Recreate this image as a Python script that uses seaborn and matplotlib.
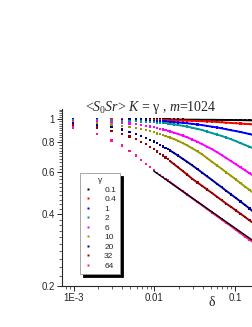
import numpy as np
import pandas as pd
import matplotlib
matplotlib.use("Agg")
import matplotlib.pyplot as plt
import seaborn as sns
from matplotlib.lines import Line2D
from matplotlib.ticker import FixedLocator, FixedFormatter, LogLocator, NullFormatter

# lattice size and sampled separations r (delta = r / m)
m = 1024
r_steps = [1, 2, 3, 4, 5, 6, 7, 8, 9, 10, 11, 12, 13, 14, 15, 16, 18, 20, 23, 26,
           30, 35, 40, 46, 53, 61, 70, 80, 92, 105, 120, 137, 155, 172]

gammas = ['0.1', '0.4', '1', '2', '6', '10', '20', '32', '64']
colors = ['#000000', '#ff0000', '#0000ff', '#009999', '#ff00ff',
          '#999900', '#000099', '#990000', '#ff1493']

corr_g01 = [1.000, 1.000, 1.000, 1.000, 0.999, 0.999, 0.999, 0.999, 0.999, 0.999, 0.999, 0.999,
            0.999, 0.998, 0.998, 0.998, 0.998, 0.998, 0.998, 0.997, 0.997, 0.997, 0.996, 0.996,
            0.996, 0.995, 0.995, 0.994, 0.994, 0.993, 0.993, 0.992, 0.991, 0.990]
corr_g04 = [0.999, 0.999, 0.998, 0.998, 0.997, 0.997, 0.996, 0.996, 0.995, 0.995, 0.994, 0.994,
            0.993, 0.993, 0.992, 0.992, 0.991, 0.990, 0.989, 0.988, 0.986, 0.984, 0.982, 0.980,
            0.978, 0.975, 0.972, 0.969, 0.966, 0.963, 0.960, 0.957, 0.955, 0.952]
corr_g1 = [0.999, 0.998, 0.996, 0.995, 0.993, 0.992, 0.990, 0.989, 0.987, 0.986, 0.984, 0.983,
           0.981, 0.980, 0.978, 0.977, 0.974, 0.971, 0.967, 0.963, 0.958, 0.952, 0.946, 0.939,
           0.932, 0.925, 0.917, 0.909, 0.900, 0.893, 0.885, 0.876, 0.868, 0.860]
corr_g2 = [0.997, 0.994, 0.991, 0.988, 0.985, 0.982, 0.979, 0.977, 0.974, 0.972, 0.969, 0.967,
           0.964, 0.962, 0.960, 0.957, 0.952, 0.947, 0.940, 0.933, 0.923, 0.912, 0.902, 0.889,
           0.876, 0.864, 0.852, 0.839, 0.825, 0.810, 0.795, 0.780, 0.768, 0.756]
corr_g6 = [0.988, 0.982, 0.975, 0.968, 0.961, 0.954, 0.947, 0.940, 0.933, 0.926, 0.919, 0.913,
           0.907, 0.901, 0.896, 0.890, 0.879, 0.869, 0.855, 0.841, 0.824, 0.805, 0.787, 0.768,
           0.750, 0.729, 0.708, 0.688, 0.667, 0.648, 0.629, 0.611, 0.594, 0.581]
corr_g10 = [0.977, 0.963, 0.951, 0.940, 0.929, 0.919, 0.910, 0.900, 0.891, 0.882, 0.873, 0.865,
            0.858, 0.851, 0.845, 0.839, 0.826, 0.813, 0.795, 0.778, 0.757, 0.734, 0.713, 0.688,
            0.664, 0.641, 0.620, 0.599, 0.579, 0.559, 0.540, 0.522, 0.506, 0.492]
corr_g20 = [0.968, 0.948, 0.928, 0.907, 0.888, 0.870, 0.853, 0.837, 0.822, 0.808, 0.795, 0.782,
            0.770, 0.759, 0.749, 0.740, 0.722, 0.705, 0.683, 0.664, 0.642, 0.618, 0.598, 0.577,
            0.557, 0.537, 0.519, 0.501, 0.484, 0.468, 0.452, 0.437, 0.423, 0.410]
corr_g32 = [0.948, 0.925, 0.897, 0.870, 0.847, 0.826, 0.805, 0.786, 0.766, 0.749, 0.733, 0.718,
            0.705, 0.692, 0.680, 0.668, 0.648, 0.630, 0.607, 0.587, 0.564, 0.543, 0.526, 0.508,
            0.491, 0.474, 0.458, 0.443, 0.429, 0.415, 0.402, 0.389, 0.377, 0.368]
corr_g64 = [0.924, 0.866, 0.815, 0.777, 0.738, 0.706, 0.678, 0.652, 0.632, 0.612, 0.598, 0.585,
            0.574, 0.564, 0.554, 0.545, 0.530, 0.516, 0.499, 0.484, 0.467, 0.450, 0.436, 0.421,
            0.407, 0.393, 0.380, 0.368, 0.356, 0.344, 0.333, 0.322, 0.313, 0.305]

# power law fit drawn over the large-gamma curve
fit_delta = [0.0098, 0.170]
fit_value = [0.607, 0.309]

series = [corr_g01, corr_g04, corr_g1, corr_g2, corr_g6, corr_g10, corr_g20, corr_g32, corr_g64]
rows = []
for g, vals in zip(gammas, series):
    for r, v in zip(r_steps, vals):
        rows.append((r / m, v, g, r))
df = pd.DataFrame(rows, columns=['delta', 'corr', 'gamma', 'r'])

sns.set_style('ticks')
plt.rcParams['font.family'] = ['Liberation Sans', 'DejaVu Sans']
plt.rcParams['mathtext.fontset'] = 'custom'
plt.rcParams['mathtext.rm'] = 'Liberation Serif'
plt.rcParams['mathtext.it'] = 'Liberation Serif:italic'

fig = plt.figure(figsize=(2.53, 3.27), dpi=100)
ax = fig.add_axes([62 / 253, 1 - 286 / 327, 191 / 253, 176.5 / 327])
pal = dict(zip(gammas, colors))

# dense part of each curve reads as a solid line
sns.lineplot(data=df[df['r'] >= 16], x='delta', y='corr', hue='gamma', hue_order=gammas,
             palette=pal, lw=1.4, estimator=None, legend=False, ax=ax)
sns.scatterplot(data=df, x='delta', y='corr', hue='gamma', hue_order=gammas, palette=pal,
                marker='s', s=2.5, linewidth=0, legend=False, ax=ax)
sns.lineplot(x=fit_delta, y=fit_value, color='black', lw=1.0, ax=ax)

ax.set_xscale('log')
ax.set_yscale('log')
ax.set_xlim(7.1e-4, 0.1675)
ax.set_ylim(0.2, 1.10)
ax.set_xlabel('')
ax.set_ylabel('')
for side in ['top', 'right']:
    ax.spines[side].set_visible(False)
for side in ['left', 'bottom']:
    ax.spines[side].set_linewidth(0.8)

ax.yaxis.set_major_locator(FixedLocator([0.2, 0.4, 0.6, 0.8, 1.0]))
ax.yaxis.set_major_formatter(FixedFormatter(['0.2', '0.4', '0.6', '0.8', '1']))
ax.yaxis.set_minor_locator(FixedLocator(np.arange(0.22, 1.101, 0.02)))
ax.yaxis.set_minor_formatter(NullFormatter())
ax.xaxis.set_major_locator(FixedLocator([1e-3, 1e-2, 1e-1]))
ax.xaxis.set_major_formatter(FixedFormatter(['1E-3', '0.01', '0.1']))
ax.xaxis.set_minor_locator(LogLocator(base=10, subs=np.arange(2, 10)))
ax.xaxis.set_minor_formatter(NullFormatter())
ax.tick_params(which='major', direction='out', length=3.5, width=0.7, labelsize=7, pad=1.5)
ax.tick_params(which='minor', direction='out', length=2, width=0.5)

handles = [Line2D([], [], ls='none', marker='s', ms=1.6, color=c, mec='none') for c in colors]
leg = ax.legend(handles, gammas, title='γ', loc='upper left',
                bbox_to_anchor=((80 - 62) / 191, (286 - 173) / 176.5), borderaxespad=0,
                fontsize=6, title_fontsize=6, frameon=True, fancybox=False,
                edgecolor='#999999', framealpha=1,
                shadow={'color': 'black', 'alpha': 1},
                labelspacing=0.2, handlelength=1.0, handletextpad=1.4, borderpad=0.5)
leg.get_frame().set_linewidth(0.6)

fig.text(151 / 253, 1 - 111.5 / 327, r'<$S_0Sr$> $K$ = γ , $m$=1024', ha='center',
         va='baseline', fontsize=10, family='Liberation Serif')
fig.text(212 / 253, 1 - 306 / 327, 'δ', ha='center', va='baseline', fontsize=10,
         family='Liberation Serif')

fig.savefig('out.png', dpi=100)
